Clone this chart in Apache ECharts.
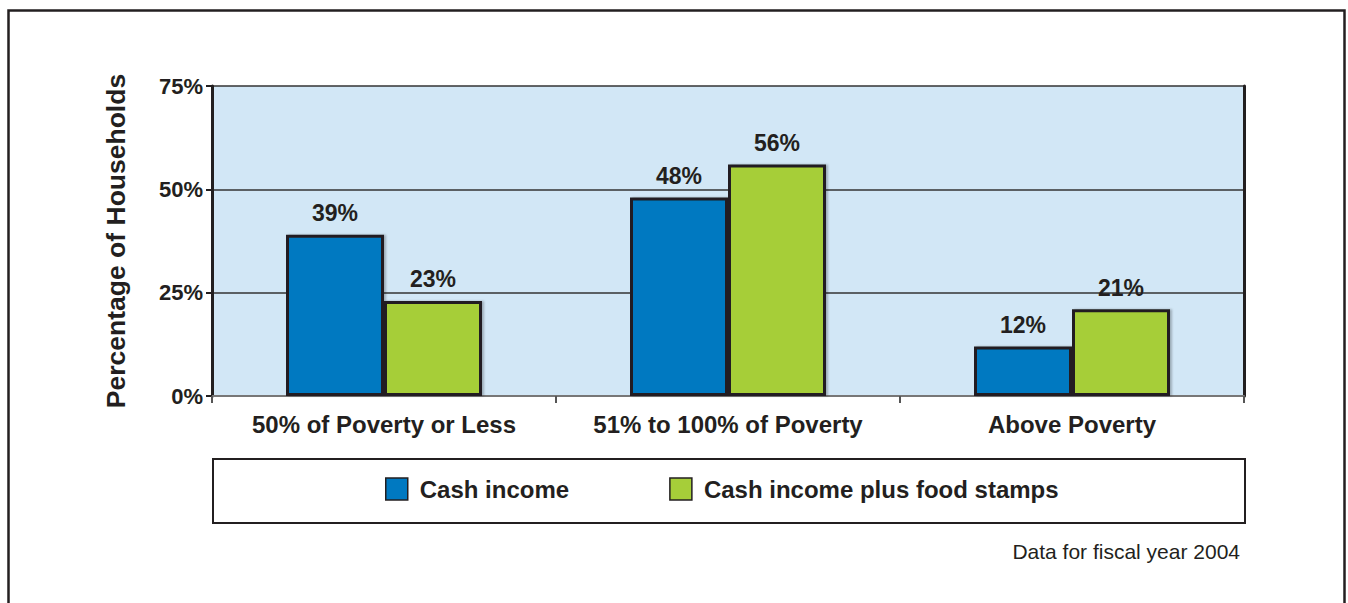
<!DOCTYPE html>
<html>
<head>
<meta charset="utf-8">
<script src="https://cdn.jsdelivr.net/npm/echarts@6/dist/echarts.min.js"></script>
<style>
  html, body { margin: 0; padding: 0; background: #fff; }
  #chart { width: 1348px; height: 603px; }
</style>
</head>
<body>
<div id="chart"></div>
<script>
(function() {
  var categories = ['50% of Poverty or Less', '51% to 100% of Poverty', 'Above Poverty'];
  var cashIncome = [39, 48, 12];
  var cashPlusStamps = [23, 56, 21];
  var yTicks = [0, 25, 50, 75];

  var ink = '#231F20';
  var blue = '#0079C1';
  var green = '#A6CE39';
  var plotBg = '#D2E7F6';
  var font = '"Liberation Sans", Arial, Helvetica, sans-serif';

  var chart = echarts.init(document.getElementById('chart'), null, { renderer: 'svg' });

  var barLabel = {
    show: true,
    position: 'top',
    distance: 10,
    formatter: '{c}%',
    color: ink,
    fontFamily: font,
    fontWeight: 'bold',
    fontSize: 23
  };

  chart.setOption({
    animation: false,
    backgroundColor: '#fff',
    textStyle: { fontFamily: font },
    grid: {
      left: 212, right: 104, top: 86, bottom: 207,
      show: true, backgroundColor: plotBg, borderWidth: 0
    },
    legend: {
      left: 385,
      top: 477,
      padding: 0,
      itemWidth: 22,
      itemHeight: 22,
      itemGap: 100,
      icon: 'rect',
      itemStyle: { borderColor: ink, borderWidth: 1.5 },
      textStyle: { color: ink, fontFamily: font, fontWeight: 'bold', fontSize: 24, padding: [0, 0, 0, 7] },
      data: ['Cash income', 'Cash income plus food stamps']
    },
    xAxis: {
      type: 'category',
      data: categories,
      axisLine: { lineStyle: { color: '#777', width: 2 } },
      axisTick: { show: true, length: 7, lineStyle: { color: '#555', width: 2 } },
      axisLabel: { interval: 0, color: ink, fontFamily: font, fontWeight: 'bold', fontSize: 24, margin: 16 },
      splitLine: { show: false }
    },
    yAxis: [
      {
        type: 'value',
        min: yTicks[0],
        max: yTicks[yTicks.length - 1],
        interval: 25,
        name: 'Percentage of Households',
        nameLocation: 'middle',
        nameRotate: 90,
        nameGap: 83,
        nameTextStyle: { color: ink, fontFamily: font, fontWeight: 'bold', fontSize: 26.5 },
        axisLine: { show: true, lineStyle: { color: ink, width: 3 } },
        axisTick: { show: true, length: 6, lineStyle: { color: ink, width: 2 } },
        axisLabel: { color: ink, fontFamily: font, fontWeight: 'bold', fontSize: 22, margin: 9, formatter: '{value}%' },
        splitLine: { show: true, lineStyle: { color: '#333', width: 1.5 } }
      },
      {
        type: 'value',
        position: 'right',
        min: yTicks[0],
        max: yTicks[yTicks.length - 1],
        interval: 25,
        axisLine: { show: true, lineStyle: { color: ink, width: 3 } },
        axisTick: { show: false },
        axisLabel: { show: false },
        splitLine: { show: false }
      }
    ],
    series: [
      {
        name: 'Cash income',
        type: 'bar',
        data: cashIncome,
        barWidth: 98,
        barGap: '0%',
        itemStyle: { color: blue, borderColor: ink, borderWidth: 3, shadowColor: 'rgba(0,0,0,0.25)', shadowOffsetX: 2, shadowOffsetY: 0, shadowBlur: 2 },
        label: barLabel
      },
      {
        name: 'Cash income plus food stamps',
        type: 'bar',
        data: cashPlusStamps,
        barWidth: 98,
        barGap: '0%',
        itemStyle: { color: green, borderColor: ink, borderWidth: 3, shadowColor: 'rgba(0,0,0,0.25)', shadowOffsetX: 2, shadowOffsetY: 0, shadowBlur: 2 },
        label: barLabel
      }
    ],
    graphic: [
      {
        type: 'rect',
        left: 6, top: 8, z: -10,
        shape: { width: 1336, height: 640 },
        style: { fill: 'none', stroke: ink, lineWidth: 2.5 }
      },
      {
        type: 'rect',
        left: 212, top: 458, z: -5,
        shape: { width: 1032, height: 64 },
        style: { fill: '#fff', stroke: ink, lineWidth: 2 }
      },
      {
        type: 'text',
        right: 108, top: 541,
        style: { text: 'Data for fiscal year 2004', fill: ink, font: '21px ' + font }
      }
    ]
  });

  window.addEventListener('resize', function() { chart.resize(); });
})();
</script>
</body>
</html>
